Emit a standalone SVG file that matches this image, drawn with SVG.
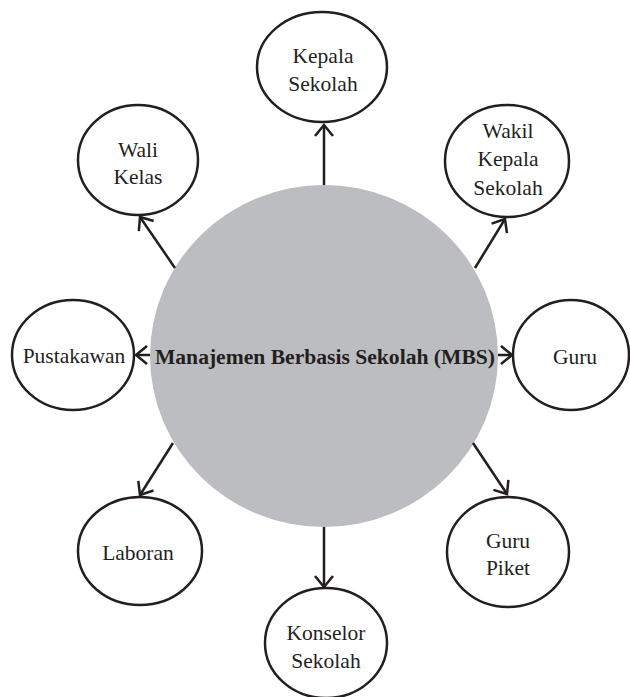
<svg xmlns="http://www.w3.org/2000/svg" width="630" height="697" viewBox="0 0 630 697">
<defs>
<style>
.node ellipse{fill:#fff;stroke:#231f20;stroke-width:2.5}
.lbl{font-family:"Liberation Serif","DejaVu Serif",serif;font-size:21.5px;fill:#231f20;text-anchor:middle}
.title{font-family:"Liberation Serif","DejaVu Serif",serif;font-size:21.6px;font-weight:bold;fill:#231f20;text-anchor:middle}
.conn line{stroke:#231f20;stroke-width:2.5;fill:none}
</style>
<marker id="ah" viewBox="0 0 12 18" refX="11" refY="9" markerWidth="12" markerHeight="18" markerUnits="userSpaceOnUse" orient="auto" overflow="visible">
<path d="M0,0 L11,9 L0,18" fill="none" stroke="#231f20" stroke-width="2.5"/>
</marker>
</defs>
<rect width="630" height="697" fill="#fff"/>
<g id="mbs">
<ellipse cx="324" cy="356" rx="174" ry="171" fill="#bcbdc0"/>
<text class="title" x="325" y="364">Manajemen Berbasis Sekolah (MBS)</text>
</g>
<g id="connectors" class="conn">
<line x1="324" y1="185" x2="324" y2="125" marker-end="url(#ah)"/>
<line x1="475" y1="268" x2="505" y2="219" marker-end="url(#ah)"/>
<line x1="498" y1="355" x2="512" y2="355" marker-end="url(#ah)"/>
<line x1="473" y1="443" x2="507" y2="494" marker-end="url(#ah)"/>
<line x1="324" y1="527" x2="324" y2="587" marker-end="url(#ah)"/>
<line x1="173" y1="443" x2="140" y2="495" marker-end="url(#ah)"/>
<line x1="150" y1="355" x2="136" y2="355" marker-end="url(#ah)"/>
<line x1="175" y1="268" x2="140" y2="217" marker-end="url(#ah)"/>
</g>
<g id="kepala-sekolah" class="node">
<ellipse cx="322" cy="67" rx="65" ry="55"/>
<text class="lbl" x="323" y="63">Kepala</text>
<text class="lbl" x="323" y="91">Sekolah</text>
</g>
<g id="wakil-kepala-sekolah" class="node">
<ellipse cx="507" cy="161" rx="62" ry="56"/>
<text class="lbl" x="508" y="138">Wakil</text>
<text class="lbl" x="508" y="166">Kepala</text>
<text class="lbl" x="508" y="195">Sekolah</text>
</g>
<g id="wali-kelas" class="node">
<ellipse cx="138" cy="160" rx="60" ry="55"/>
<text class="lbl" x="138" y="157">Wali</text>
<text class="lbl" x="138" y="184">Kelas</text>
</g>
<g id="pustakawan" class="node">
<ellipse cx="73" cy="355" rx="61" ry="55"/>
<text class="lbl" x="74" y="363">Pustakawan</text>
</g>
<g id="guru" class="node">
<ellipse cx="571" cy="355" rx="58" ry="55"/>
<text class="lbl" x="575" y="364">Guru</text>
</g>
<g id="guru-piket" class="node">
<ellipse cx="508" cy="552" rx="61" ry="55"/>
<text class="lbl" x="508" y="548">Guru</text>
<text class="lbl" x="508" y="575">Piket</text>
</g>
<g id="laboran" class="node">
<ellipse cx="140" cy="551" rx="62" ry="54"/>
<text class="lbl" x="138" y="560">Laboran</text>
</g>
<g id="konselor-sekolah" class="node">
<ellipse cx="326" cy="643" rx="61" ry="55"/>
<text class="lbl" x="326" y="640">Konselor</text>
<text class="lbl" x="326" y="668">Sekolah</text>
</g>
</svg>
